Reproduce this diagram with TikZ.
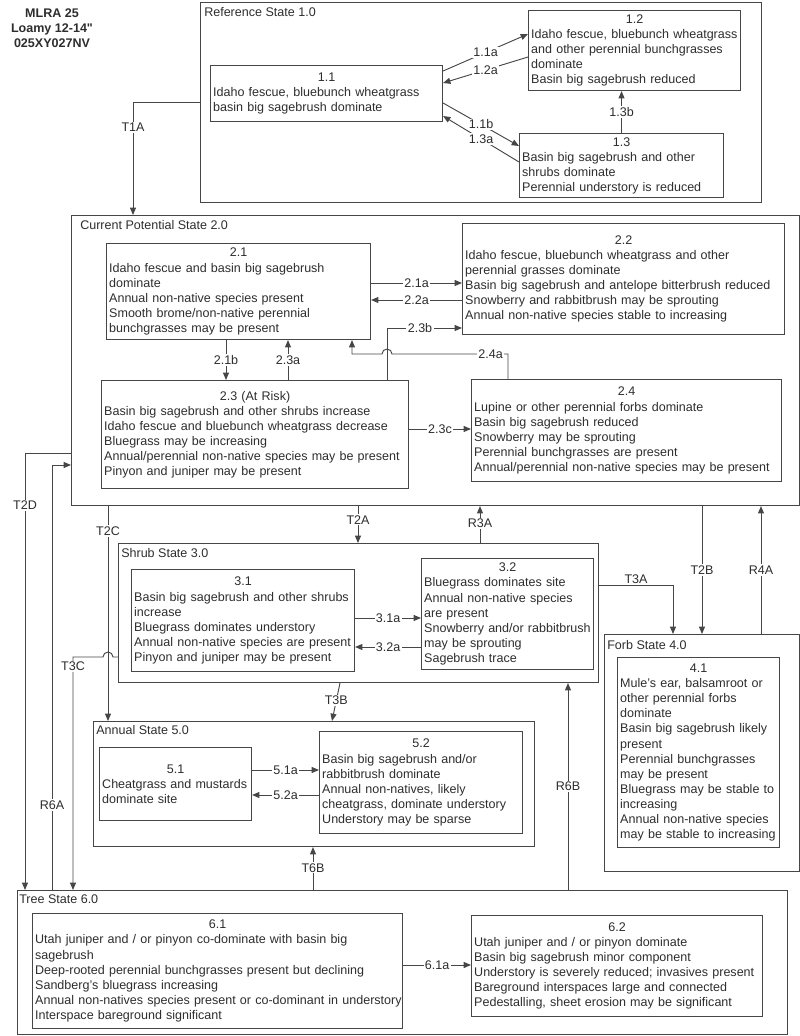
\documentclass[tikz,border=0pt]{standalone}
\usepackage{fontspec}
\setmainfont{Liberation Sans}
\usetikzlibrary{arrows.meta,calc}
\definecolor{ln}{RGB}{70,70,70}
\definecolor{tx}{RGB}{45,45,45}
\newcommand{\txtfont}{\fontsize{9.4pt}{11.3pt}\selectfont}
\begin{document}
\begin{tikzpicture}[x=0.75pt,y=0.75pt,yscale=-1,xscale=1,
  statebox/.style={draw=ln, line width=0.8pt, anchor=north west, inner sep=0pt},
  substate/.style={draw=ln, line width=0.8pt, anchor=north west, align=left, inner xsep=2pt, inner ysep=0pt, font=\txtfont, text=tx},
  statename/.style={anchor=west, inner sep=0pt, font=\txtfont, text=tx},
  link/.style={draw=ln, line width=0.7pt, -{Triangle[length=5.5pt,width=4.5pt]}},
  lbl/.style={fill=white, inner sep=1pt, font=\txtfont, text=tx}]
\useasboundingbox (0,0) rectangle (800,1036);

% Text Node
\node[font=\bfseries\txtfont, align=center, text=tx] (title) at (52,28) {MLRA 25\\Loamy 12-14\textquotedbl\\025XY027NV};

%Shape: Rectangle
\node[statebox, minimum width=420.75pt, minimum height=150pt] (R1) at (200,2) {};
\node[statename] (R1name) at ($(R1.north west)+(4,10)$) {Reference State 1.0};
%Shape: Rectangle
\node[statebox, minimum width=546pt, minimum height=217.5pt] (C2) at (71,215) {};
\node[statename] (C2name) at ($(C2.north west)+(9,10)$) {Current Potential State 2.0};
%Shape: Rectangle
\node[statebox, minimum width=360pt, minimum height=104.25pt] (S3) at (118,543) {};
\node[statename] (S3name) at ($(S3.north west)+(3,10)$) {Shrub State 3.0};
%Shape: Rectangle
\node[statebox, minimum width=146.25pt, minimum height=177.75pt] (F4) at (604,634) {};
\node[statename] (F4name) at ($(F4.north west)+(3,11)$) {Forb State 4.0};
%Shape: Rectangle
\node[statebox, minimum width=330.75pt, minimum height=93.75pt] (A5) at (93,721) {};
\node[statename] (A5name) at ($(A5.north west)+(3,9)$) {Annual State 5.0};
%Shape: Rectangle
\node[statebox, minimum width=577.5pt, minimum height=108pt] (T6) at (17,890) {};
\node[statename] (T6name) at ($(T6.north west)+(2,9)$) {Tree State 6.0};

% Text Node
\node[substate, text width=170pt, minimum height=42pt] (s11) at (210,65) {\makebox[\linewidth]{1.1}\\Idaho fescue, bluebunch wheatgrass\\basin big sagebrush dominate};
% Text Node
\node[substate, text width=155pt, minimum height=60pt] (s12) at (528,10) {\makebox[\linewidth]{1.2}\\Idaho fescue, bluebunch wheatgrass\\and other perennial bunchgrasses\\dominate\\Basin big sagebrush reduced};
% Text Node
\node[substate, text width=149pt, minimum height=48pt] (s13) at (519,133) {\makebox[\linewidth]{1.3}\\Basin big sagebrush and other\\shrubs dominate\\Perennial understory is reduced};
% Text Node
\node[substate, text width=194pt, minimum height=72pt] (s21) at (106,243) {\makebox[\linewidth]{2.1}\\Idaho fescue and basin big sagebrush\\dominate\\Annual non-native species present\\Smooth brome/non-native perennial\\bunchgrasses may be present};
% Text Node
\node[substate, text width=237.5pt, minimum height=83.25pt] (s22) at (462,223) {\makebox[\linewidth]{2.2}\\Idaho fescue, bluebunch wheatgrass and other\\perennial grasses dominate\\Basin big sagebrush and antelope bitterbrush reduced\\Snowberry and rabbitbrush may be sprouting\\Annual non-native species stable to increasing};
% Text Node
\node[substate, text width=226.25pt, minimum height=81pt] (s23) at (101,380) {\makebox[\linewidth]{2.3 (At Risk)}\\Basin big sagebrush and other shrubs increase\\Idaho fescue and bluebunch wheatgrass decrease\\Bluegrass may be increasing\\Annual/perennial non-native species may be present\\Pinyon and juniper may be present};
% Text Node
\node[substate, text width=228.5pt, minimum height=76.5pt] (s24) at (471,379) {\makebox[\linewidth]{2.4}\\Lupine or other perennial forbs dominate\\Basin big sagebrush reduced\\Snowberry may be sprouting\\Perennial bunchgrasses are present\\Annual/perennial non-native species may be present};
% Text Node
\node[substate, text width=163.25pt, minimum height=76.5pt] (s31) at (131,569) {\makebox[\linewidth]{3.1}\\Basin big sagebrush and other shrubs\\increase\\Bluegrass dominates understory\\Annual non-native species are present\\Pinyon and juniper may be present};
% Text Node
\node[substate, text width=125pt, minimum height=83.25pt] (s32) at (421,558) {\makebox[\linewidth]{3.2}\\Bluegrass dominates site\\Annual non-native species\\are present\\Snowberry and/or rabbitbrush\\may be sprouting\\Sagebrush trace};
% Text Node
\node[substate, text width=117.5pt, minimum height=142.5pt] (s41) at (617,657) {\makebox[\linewidth]{4.1}\\Mule's ear, balsamroot or\\other perennial forbs\\dominate\\Basin big sagebrush likely\\present\\Perennial bunchgrasses\\may be present\\Bluegrass may be stable to\\increasing\\Annual non-native species\\may be stable to increasing};
% Text Node
\node[substate, text width=110pt, minimum height=54.75pt] (s51) at (99,747) {\makebox[\linewidth]{5.1}\\Cheatgrass and mustards\\dominate site};
% Text Node
\node[substate, text width=148.25pt, minimum height=76.5pt] (s52) at (319,731) {\makebox[\linewidth]{5.2}\\Basin big sagebrush and/or\\rabbitbrush dominate\\Annual non-natives, likely\\cheatgrass, dominate understory\\Understory may be sparse};
% Text Node
\node[substate, text width=273.5pt, minimum height=86.25pt] (s61) at (32,913) {\makebox[\linewidth]{6.1}\\Utah juniper and / or pinyon co-dominate with basin big\\sagebrush\\Deep-rooted perennial bunchgrasses present but declining\\Sandberg's bluegrass increasing\\\mbox{Annual non-natives species present or co-dominant in understory}\\Interspace bareground significant};
% Text Node
\node[substate, text width=214.25pt, minimum height=75.75pt] (s62) at (471,915) {\makebox[\linewidth]{6.2}\\Utah juniper and / or pinyon dominate\\Basin big sagebrush minor component\\Understory is severely reduced; invasives present\\Bareground interspaces large and connected\\Pedestalling, sheet erosion may be significant};

%Straight Lines
\draw[link] (s11.east |- 0,71) -- node[lbl]{1.1a} (s12.west |- 0,34);
\draw[link] (s12.west |- 0,57) -- node[lbl]{1.2a} (s11.east |- 0,83);
\draw[link] (s11.east |- 0,103) -- node[lbl]{1.1b} (s13.west |- 0,146);
\draw[link] (s13.west |- 0,162) -- node[lbl]{1.3a} (s11.east |- 0,116);
\draw[link] (s13.north) -- node[lbl]{1.3b} (s13.north |- s12.south);
\draw[link] (R1.west) -| node[lbl,pos=0.61]{T1A} (C2.north -| 133,0);

%Straight Lines
\draw[link] (s21.east |- 0,283) -- node[lbl]{2.1a} (s22.west |- 0,283);
\draw[link] (s22.west |- 0,300) -- node[lbl]{2.2a} (s21.east |- 0,300);
\draw[link] (s23.north -| 387,0) |- node[lbl,pos=0.72]{2.3b} (s22.west |- 0,328);
\draw[link] (s24.north -| 508,0) -- (508,354) -- node[lbl,pos=0.15]{2.4a} (392,354)
  arc[start angle=0, end angle=-180, radius=5] -- (352,354) -- (s21.south -| 352,0);
\draw[link] (s21.south -| 226,0) -- node[lbl]{2.1b} (s23.north -| 226,0);
\draw[link] (s23.north -| 288,0) -- node[lbl]{2.3a} (s21.south -| 288,0);
\draw[link] (s23.east |- 0,429) -- node[lbl]{2.3c} (s24.west |- 0,429);

%Straight Lines
\draw[link] (C2.west |- 0,453) -| node[lbl,pos=0.56]{T2D} (T6.north -| 25,0);
\draw[link] (T6.north -| 52,0) |- node[lbl,pos=0.1]{R6A} (C2.west |- 0,465);
\draw[link] (S3.west |- 0,657) -- (113,657) arc[start angle=0, end angle=-180, radius=5]
  -- (73,657) -- node[lbl,pos=0.04]{T3C} (T6.north -| 73,0);
\draw[link] (C2.south -| 108,0) -- node[lbl,pos=0.116]{T2C} (A5.north -| 108,0);
\draw[link] (C2.south -| 358,0) -- node[lbl,pos=0.37]{T2A} (S3.north -| 358,0);
\draw[link] (S3.north -| 480,0) -- node[lbl,pos=0.53]{R3A} (C2.south -| 480,0);
\draw[link] (S3.east |- 0,585) -| node[lbl,pos=0.25,anchor=south]{T3A} (F4.north -| 673,0);
\draw[link] (C2.south -| 702,0) -- node[lbl]{T2B} (F4.north -| 702,0);
\draw[link] (F4.north -| 761,0) -- node[lbl]{R4A} (C2.south -| 761,0);

%Straight Lines
\draw[link] (s31.east |- 0,618) -- node[lbl]{3.1a} (s32.west |- 0,618);
\draw[link] (s32.west |- 0,647) -- node[lbl]{3.2a} (s31.east |- 0,647);
\draw[link] (S3.south -| 340,0) -- node[lbl,pos=0.46]{T3B} (A5.north -| 332,0);
\draw[link] (s51.east |- 0,770) -- node[lbl]{5.1a} (s52.west |- 0,770);
\draw[link] (s52.west |- 0,795) -- node[lbl]{5.2a} (s51.east |- 0,795);
\draw[link] (T6.north -| 313,0) -- node[lbl,pos=0.52]{T6B} (A5.south -| 313,0);
\draw[link] (T6.north -| 568,0) -- node[lbl]{R6B} (S3.south -| 568,0);
\draw[link] (s61.east |- 0,965) -- node[lbl]{6.1a} (s62.west |- 0,965);
\end{tikzpicture}
\end{document}
